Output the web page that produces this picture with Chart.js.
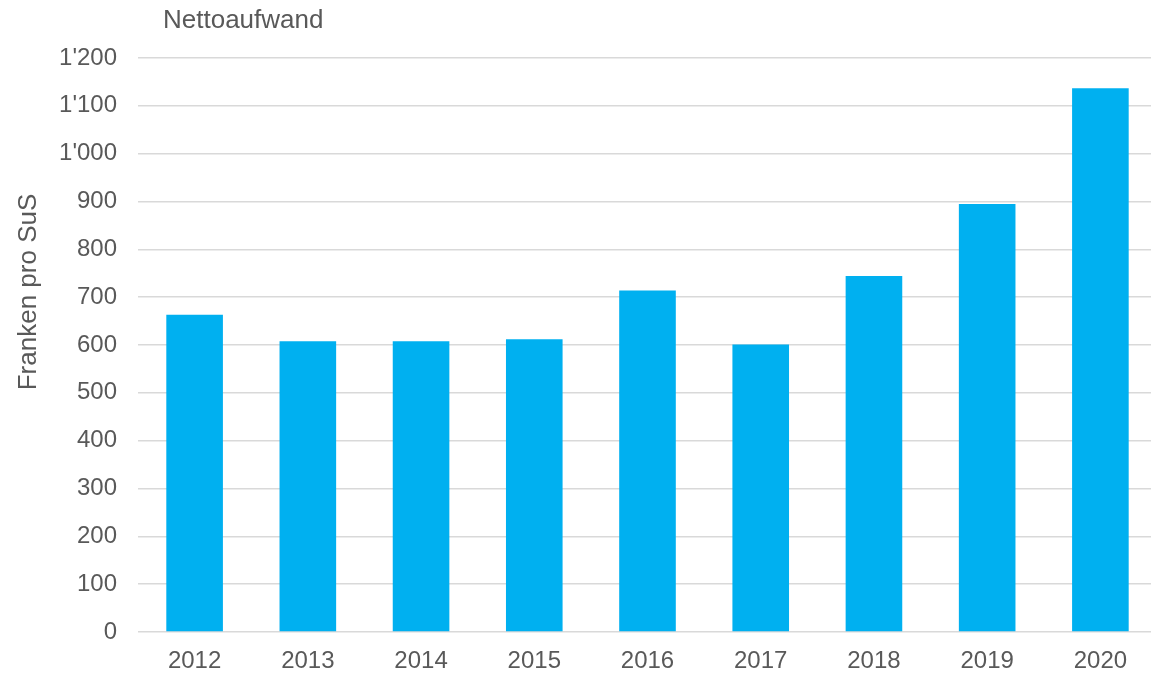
<!DOCTYPE html>
<html>
<head>
<meta charset="utf-8">
<script src="https://cdn.jsdelivr.net/npm/chart.js@4"></script>
<style>
  html, body { margin: 0; padding: 0; background: #fff; overflow: hidden; }
  #wrap { width: 1157px; height: 674px; position: relative; }
</style>
</head>
<body>
<div id="wrap"><canvas id="chart"></canvas></div>
<script>
// Data
const years = ['2012', '2013', '2014', '2015', '2016', '2017', '2018', '2019', '2020'];
const nettoaufwand = [663, 608, 608, 612, 714, 601, 744, 895, 1137];
const yTicks = [0, 100, 200, 300, 400, 500, 600, 700, 800, 900, 1000, 1100, 1200];

const textColor = '#595959';
const font = 'Liberation Sans, Arial, sans-serif';

// Swiss thousands separator: 1'200
function fmt(v) {
  return String(v).replace(/\B(?=(\d{3})+(?!\d))/g, "'");
}

// Title and rotated axis title, placed like the Excel original
const labelsPlugin = {
  id: 'labels',
  afterDraw(chart) {
    const ctx = chart.ctx;
    const area = chart.chartArea;
    ctx.save();
    ctx.fillStyle = textColor;
    ctx.font = '26px ' + font;
    ctx.textBaseline = 'middle';
    ctx.textAlign = 'left';
    ctx.fillText('Nettoaufwand', area.left + 25, 21);
    ctx.translate(29, 292);
    ctx.rotate(-Math.PI / 2);
    ctx.textAlign = 'center';
    ctx.fillText('Franken pro SuS', 0, 0);
    ctx.restore();
  }
};

new Chart(document.getElementById('chart'), {
  type: 'bar',
  data: {
    labels: years,
    datasets: [{
      label: 'Nettoaufwand',
      data: nettoaufwand,
      backgroundColor: '#00B0F0',
      borderWidth: 0,
      categoryPercentage: 1,
      barPercentage: 0.5
    }]
  },
  options: {
    responsive: true,
    maintainAspectRatio: false,
    animation: false,
    layout: { padding: { top: 58, right: 0, bottom: 0, left: 0 } },
    plugins: {
      legend: { display: false },
      title: { display: false },
      tooltip: { enabled: false }
    },
    scales: {
      x: {
        grid: { display: false, drawTicks: false },
        border: { display: false },
        ticks: { color: textColor, font: { family: font, size: 24 }, padding: 15 },
        afterFit(s) { s.height = 42; }
      },
      y: {
        min: 0,
        max: 1200,
        afterBuildTicks(s) { s.ticks = yTicks.map(v => ({ value: v })); },
        grid: { color: '#D9D9D9', lineWidth: 1.5, drawTicks: false },
        border: { display: false },
        ticks: {
          color: textColor,
          font: { family: font, size: 24 },
          padding: 21,
          callback: v => fmt(v)
        },
        afterFit(s) { s.width = 138; }
      }
    }
  },
  plugins: [labelsPlugin]
});
</script>
</body>
</html>
